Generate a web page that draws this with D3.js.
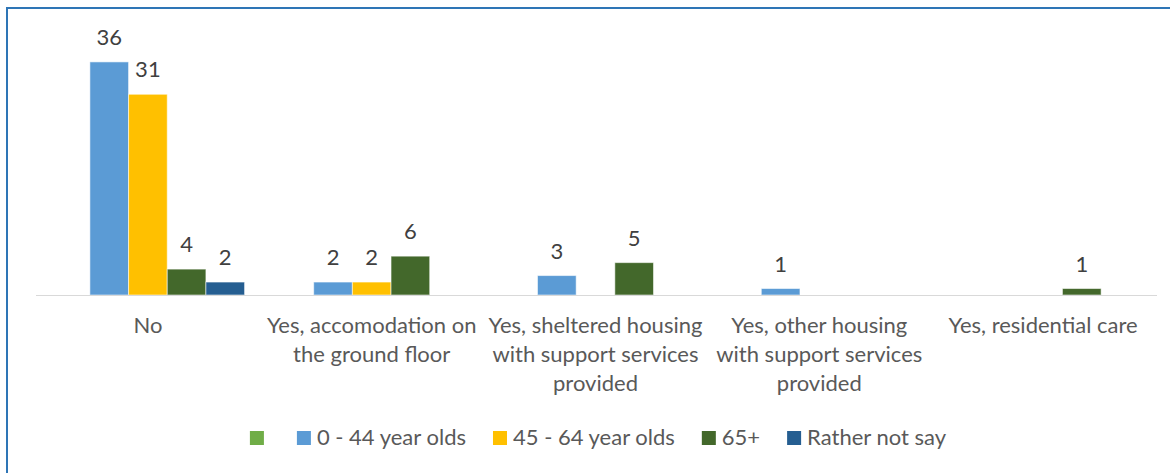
<!DOCTYPE html>
<html>
<head>
<meta charset="utf-8">
<script src="https://cdn.jsdelivr.net/npm/d3@7"></script>
<style>
  html, body { margin: 0; padding: 0; background: #fff; }
  svg { display: block; }
  text { font-family: Lato, "Open Sans", sans-serif; }
</style>
</head>
<body>
<svg id="chart" width="1170" height="473"></svg>
<script>
// Categories (each entry is the wrapped lines of the axis label)
const categories = [
  ["No"],
  ["Yes, accomodation on", "the ground floor"],
  ["Yes, sheltered housing", "with support services", "provided"],
  ["Yes, other housing", "with support services", "provided"],
  ["Yes, residential care"]
];
const categoryKeys = ["No", "Ground floor", "Sheltered", "Other housing", "Residential care"];

// Series names, colours and counts (null = no bar)
const seriesNames = ["", "0 - 44 year olds", "45 - 64 year olds", "65+", "Rather not say"];
const seriesColors = ["#70ad47", "#5b9bd5", "#ffc000", "#43682b", "#255e91"];
const unnamedValues = [null, null, null, null, null];
const age0to44 = [36, 2, 3, 1, null];
const age45to64 = [31, 2, null, null, null];
const age65plus = [4, 6, 5, null, 1];
const ratherNotSay = [2, null, null, null, null];
const seriesValues = [unnamedValues, age0to44, age45to64, age65plus, ratherNotSay];

const yDomainMax = 40;

const svg = d3.select("#chart");
const textColor = "#595959";
const labelColor = "#404040";

// Outer frame
svg.append("rect")
  .attr("x", 7).attr("y", 8)
  .attr("width", 1220).attr("height", 520)
  .attr("fill", "none")
  .attr("stroke", "#2e75b6")
  .attr("stroke-width", 2);

const plot = { left: 36, right: 1155, top: 36, bottom: 295 };

const x0 = d3.scaleBand()
  .domain(categoryKeys)
  .range([plot.left, plot.right])
  .paddingInner(0.136)
  .paddingOuter(0.068);

const x1 = d3.scaleBand()
  .domain(d3.range(seriesNames.length))
  .range([0, x0.bandwidth()])
  .padding(0);

const y = d3.scaleLinear()
  .domain([0, yDomainMax])
  .range([plot.bottom, plot.top]);

// Bars
const groups = svg.append("g").selectAll("g")
  .data(categoryKeys)
  .join("g")
  .attr("transform", d => `translate(${x0(d)},0)`);

const cells = groups.selectAll("g.cell")
  .data((d, ci) => seriesValues.map((vals, si) => ({ si, v: vals[ci] })).filter(e => e.v != null))
  .join("g").attr("class", "cell");

cells.append("rect")
  .attr("x", d => x1(d.si))
  .attr("width", x1.bandwidth())
  .attr("y", d => y(d.v))
  .attr("height", d => y(0) - y(d.v))
  .attr("fill", d => seriesColors[d.si])
  .attr("stroke", "rgba(255,255,255,0.55)")
  .attr("stroke-width", 1);

cells.append("text")
  .attr("x", d => x1(d.si) + x1.bandwidth() / 2)
  .attr("y", d => y(d.v) - 17)
  .attr("text-anchor", "middle")
  .attr("font-size", 22)
  .attr("fill", labelColor)
  .text(d => d.v);

// Category axis
const xAxis = svg.append("g")
  .attr("transform", `translate(0,${plot.bottom})`)
  .call(d3.axisBottom(x0).tickSize(0).tickFormat(""));
xAxis.select(".domain").attr("stroke", "#d9d9d9").attr("stroke-width", 1.2)
  .attr("d", `M${plot.left},0.5H${plot.right + 2}`);

const catLabels = svg.append("g").selectAll("text")
  .data(categoryKeys)
  .join("text")
  .attr("x", d => x0(d) + x0.bandwidth() / 2)
  .attr("y", 333)
  .attr("text-anchor", "middle")
  .attr("font-size", 22)
  .attr("fill", textColor);
catLabels.each(function(d, i) {
  const t = d3.select(this);
  categories[i].forEach((line, li) => {
    t.append("tspan")
      .attr("x", x0(d) + x0.bandwidth() / 2)
      .attr("dy", li === 0 ? 0 : 29)
      .text(line);
  });
});

// Legend
const legend = svg.append("g");
const sw = 14, gapText = 6, gapItem = 27;
const items = legend.selectAll("g")
  .data(seriesNames.map((n, i) => ({ n, i })))
  .join("g");
items.append("rect")
  .attr("width", sw).attr("height", sw)
  .attr("y", 431)
  .attr("fill", d => seriesColors[d.i]);
items.append("text")
  .attr("y", 445)
  .attr("font-size", 22)
  .attr("fill", textColor)
  .text(d => d.n);
let cursor = 0;
const starts = [];
items.each(function(d) {
  const w = d3.select(this).select("text").node().getComputedTextLength();
  starts.push(cursor);
  cursor += sw + gapText + w + gapItem;
});
const totalW = cursor - gapItem;
const legendLeft = 598 - totalW / 2;
items.each(function(d, i) {
  const g = d3.select(this);
  g.select("rect").attr("x", legendLeft + starts[i]);
  g.select("text").attr("x", legendLeft + starts[i] + sw + gapText);
});
</script>
</body>
</html>
